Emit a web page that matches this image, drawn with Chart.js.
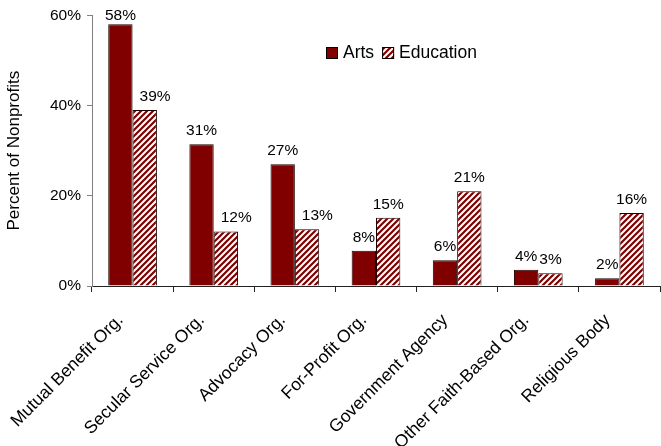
<!DOCTYPE html>
<html><head><meta charset="utf-8">
<script src="https://cdn.jsdelivr.net/npm/chart.js@4"></script>
<style>html,body{margin:0;padding:0;background:#fff}#wrap{width:661px;height:446px}</style>
</head><body><div id="wrap"><canvas id="c" width="661" height="446"></canvas></div>
<script>
const categories = ["Mutual Benefit Org.","Secular Service Org.","Advocacy Org.","For-Profit Org.","Government Agency","Other Faith-Based Org.","Religious Body"];
const artsValues = [58, 31.4, 27, 7.8, 5.7, 3.6, 1.7];
const educationValues = [39, 12.1, 12.6, 15.1, 21, 2.8, 16.2];
const seriesNames = ["Arts", "Education"];
const yTicks = [0, 20, 40, 60];

const MAROON = '#800000';
function stripePattern(){
  const s = 6;
  const cv = document.createElement('canvas'); cv.width = s; cv.height = s;
  const g = cv.getContext('2d');
  g.fillStyle = '#fff'; g.fillRect(0,0,s,s);
  g.strokeStyle = MAROON; g.lineWidth = 2.2;
  g.beginPath();
  g.moveTo(-1, s+1); g.lineTo(s+1, -1);
  g.moveTo(-1, 1); g.lineTo(1, -1);
  g.moveTo(s-1, s+1); g.lineTo(s+1, s-1);
  g.stroke();
  return g.createPattern(cv, 'repeat');
}
const pat = stripePattern();
const FONT = "'Liberation Sans', Arial, sans-serif";

const labelPlugin = {
  id: 'barLabels',
  afterDatasetsDraw(chart){
    const ctx = chart.ctx;
    ctx.save();
    ctx.font = '15.5px ' + FONT;
    ctx.fillStyle = '#000';
    ctx.textAlign = 'left';
    ctx.textBaseline = 'alphabetic';
    const m0 = chart.getDatasetMeta(0).data;
    chart.data.datasets.forEach((ds, di) => {
      chart.getDatasetMeta(di).data.forEach((bar, i) => {
        const txt = Math.round(ds.data[i]) + '%';
        const w = ctx.measureText(txt).width;
        let base = Math.max(bar.y - 9, 20);
        let left = bar.x - w/2;
        if (di === 1) {
          const a = m0[i];
          const aRight = a.x + a.width/2;
          if (left < aRight + 4 && a.y < base) left = aRight + 7;
        }
        ctx.fillText(txt, left, base);
      });
    });
    ctx.restore();
  }
};
const legendPlugin = {
  id: 'customLegend',
  afterDraw(chart){
    const ctx = chart.ctx;
    ctx.save();
    ctx.font = '17.5px ' + FONT;
    ctx.textBaseline = 'middle';
    let x = 326; const y = 53;
    chart.data.datasets.forEach((ds) => {
      ctx.fillStyle = ds.backgroundColor;
      ctx.fillRect(x, y-6, 12, 12);
      ctx.strokeStyle = '#000'; ctx.lineWidth = 1;
      ctx.strokeRect(x+0.5, y-5.5, 11, 11);
      ctx.fillStyle = '#000';
      ctx.textAlign = 'left';
      ctx.fillText(ds.label, x + 17, y);
      x += 17 + ctx.measureText(ds.label).width + 8;
    });
    ctx.restore();
  }
};

new Chart(document.getElementById('c'), {
  type: 'bar',
  data: {
    labels: categories,
    datasets: [
      {label: seriesNames[0], data: artsValues, backgroundColor: MAROON, borderColor: '#1a0000', borderWidth: 1, categoryPercentage: 0.6, barPercentage: 1},
      {label: seriesNames[1], data: educationValues, backgroundColor: pat, borderColor: '#1a0000', borderWidth: 1, categoryPercentage: 0.6, barPercentage: 1}
    ]
  },
  options: {
    responsive: false,
    animation: false,
    events: [],
    layout: {padding: {top: 12, right: 1, left: 0, bottom: 0}},
    plugins: {legend: {display: false}, tooltip: {enabled: false}},
    scales: {
      x: {
        grid: {display: true, drawOnChartArea: false, drawTicks: true, tickLength: 6, color: '#222', offset: true},
        border: {display: true, color: '#222'},
        ticks: {color: '#000', font: {family: FONT, size: 17.5}, maxRotation: 45, minRotation: 45, padding: 18, labelOffset: -12, autoSkip: false},
        afterFit(s){ s.height = 160; }
      },
      y: {
        min: 0, max: 60,
        afterBuildTicks(s){ s.ticks = yTicks.map(v => ({value: v})); },
        grid: {display: true, drawOnChartArea: false, drawTicks: true, tickLength: 5, color: '#808080'},
        border: {display: true, color: '#808080'},
        ticks: {color: '#000', font: {family: FONT, size: 15.5}, padding: 6, callback: v => v + '%'},
        title: {display: true, text: 'Percent of Nonprofits', color: '#000', font: {family: FONT, size: 17}, padding: {top: 4, bottom: 2}},
        afterFit(s){ s.width = 92; }
      }
    }
  },
  plugins: [labelPlugin, legendPlugin]
});
</script></body></html>
